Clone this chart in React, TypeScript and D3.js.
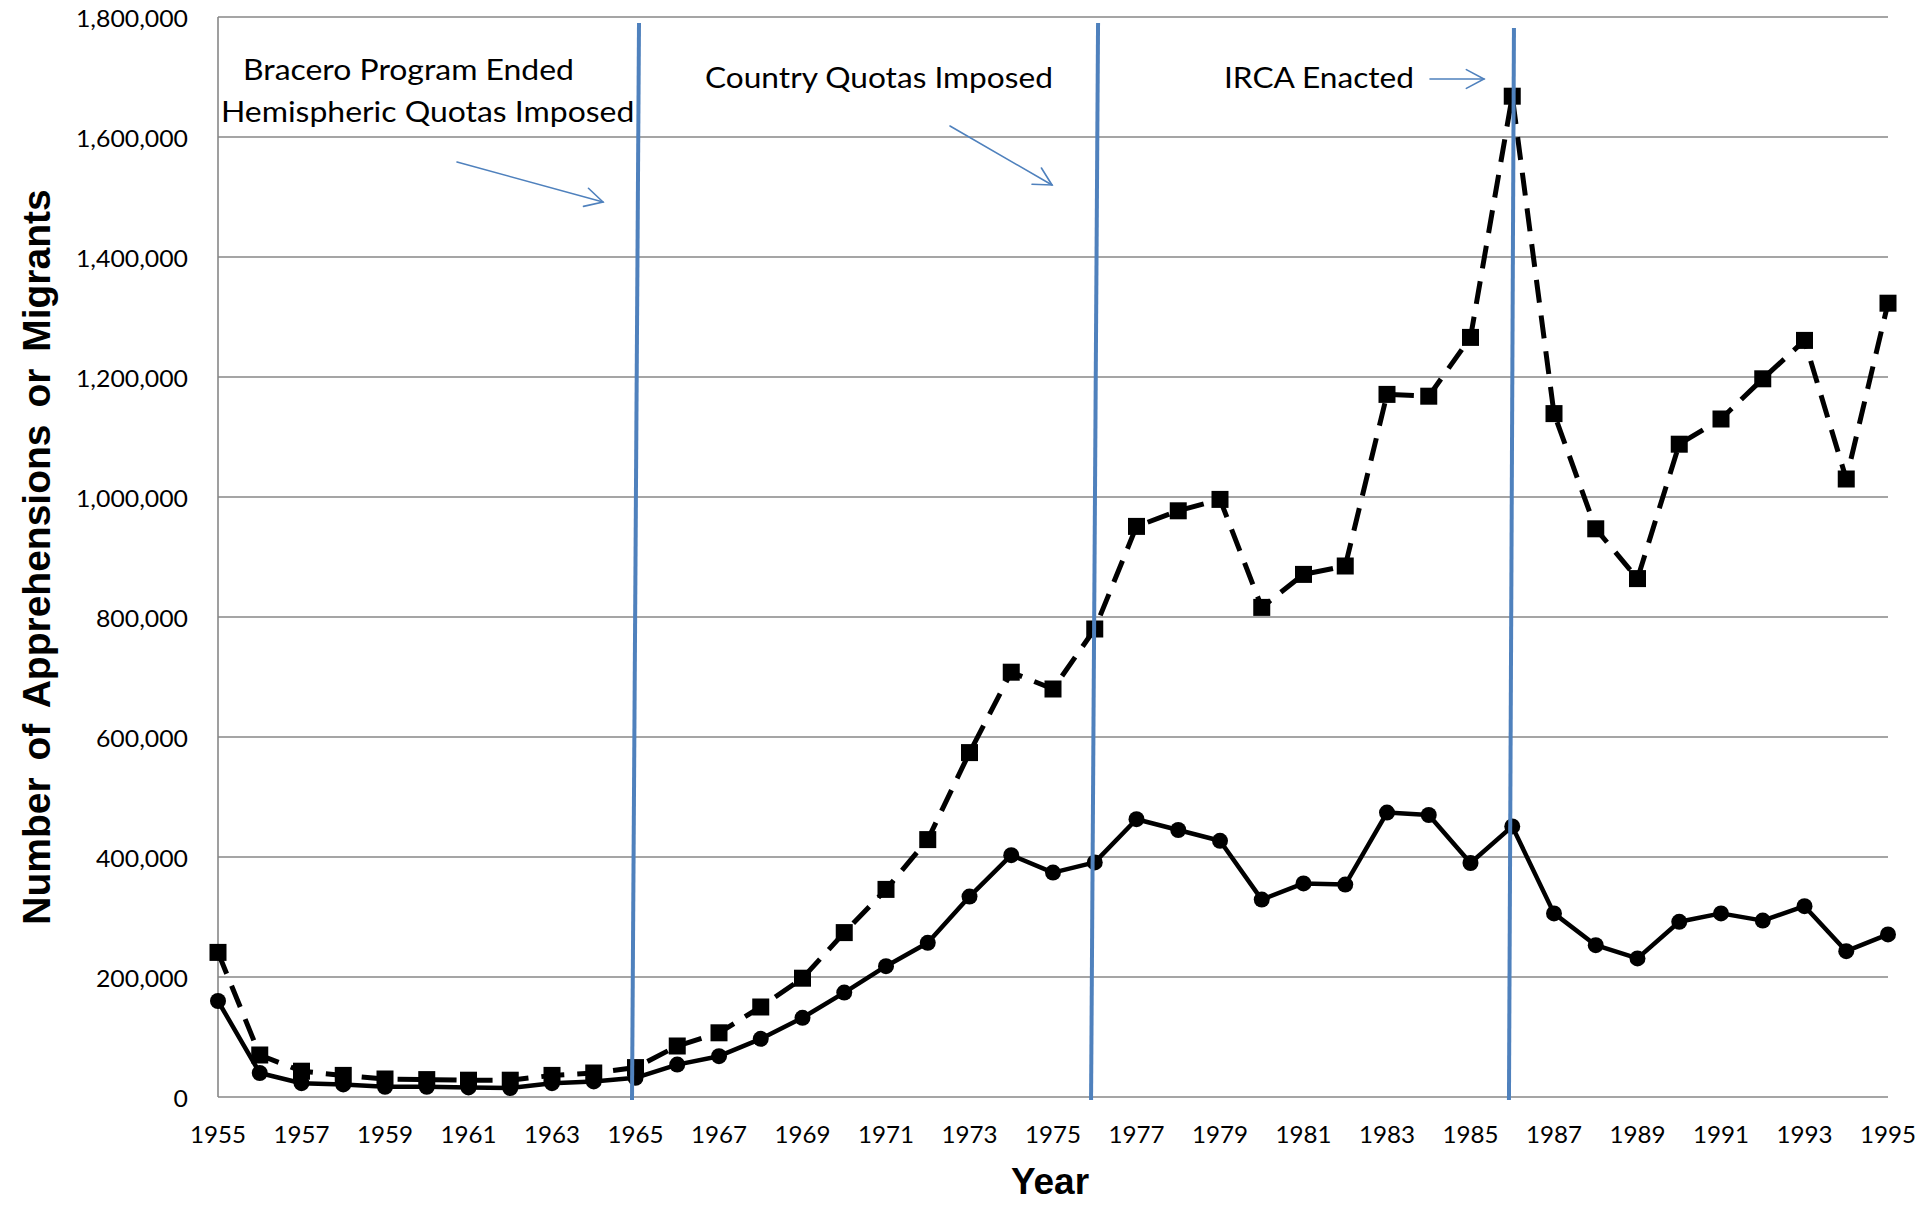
import React from 'react';
import * as d3 from 'd3';

const years = [
  1955, 1956, 1957, 1958, 1959, 1960, 1961, 1962, 1963, 1964,
  1965, 1966, 1967, 1968, 1969, 1970, 1971, 1972, 1973, 1974,
  1975, 1976, 1977, 1978, 1979, 1980, 1981, 1982, 1983, 1984,
  1985, 1986, 1987, 1988, 1989, 1990, 1991, 1992, 1993, 1994, 1995,
];

// dashed line with squares
const apprehensions = [
  241000, 70000, 43000, 36000, 30000, 29000, 28000, 28000, 36000, 40000,
  49000, 85000, 107000, 150000, 198000, 274000, 346000, 429000, 574000, 708000,
  680000, 780000, 951000, 977000, 996000, 816000, 871000, 885000, 1171000, 1168000,
  1266000, 1668000, 1139000, 947000, 864000, 1088000, 1130000, 1197000, 1261000, 1030000, 1323000,
];

// solid line with circles
const migrants = [
  160000, 40000, 23000, 21000, 17000, 17000, 16000, 15000, 23000, 26000,
  32000, 54000, 68000, 97000, 132000, 174000, 218000, 257000, 334000, 403000,
  374000, 391000, 463000, 445000, 427000, 329000, 356000, 354000, 474000, 470000,
  390000, 451000, 306000, 253000, 231000, 292000, 306000, 294000, 318000, 243000, 271000,
];

const yTicks = [0, 200000, 400000, 600000, 800000, 1000000, 1200000, 1400000, 1600000, 1800000];
const xTickYears = [
  1955, 1957, 1959, 1961, 1963, 1965, 1967, 1969, 1971, 1973, 1975,
  1977, 1979, 1981, 1983, 1985, 1987, 1989, 1991, 1993, 1995,
];
const eventYears = [1965, 1976, 1986];
const eventLabels = [
  ['Bracero Program Ended', 'Hemispheric Quotas Imposed'],
  ['Country Quotas Imposed'],
  ['IRCA Enacted'],
];

const W = 1920;
const H = 1207;
const BLUE = '#4F81BD';
const GRID = '#878787';

const x = d3.scaleLinear().domain([1955, 1995]).range([218, 1888]);
const y = d3.scaleLinear().domain([0, 1800000]).range([1097, 17]);

const fmt = d3.format(',');

function SText({ x: tx, y: ty, sx = 1, anchor = 'start', size, family, weight = 'normal', children }: any) {
  return (
    <text
      transform={`translate(${tx},${ty}) scale(${sx},1)`}
      textAnchor={anchor}
      fontSize={size}
      fontFamily={family}
      fontWeight={weight}
      fill="#000"
    >
      {children}
    </text>
  );
}

function Arrow({ x1, y1, x2, y2 }: any) {
  const ang = Math.atan2(y2 - y1, x2 - x1);
  const L = 20;
  const spread = (28 * Math.PI) / 180;
  const a1 = ang + Math.PI - spread;
  const a2 = ang + Math.PI + spread;
  return (
    <g stroke={BLUE} strokeWidth={1.6} fill="none" strokeLinecap="round">
      <line x1={x1} y1={y1} x2={x2} y2={y2} />
      <polyline
        points={`${x2 + L * Math.cos(a1)},${y2 + L * Math.sin(a1)} ${x2},${y2} ${x2 + L * Math.cos(a2)},${y2 + L * Math.sin(a2)}`}
      />
    </g>
  );
}

export default function App() {
  const line = d3
    .line<number>()
    .x((_, i) => x(years[i]))
    .y((d) => y(d));

  const tickFont = 'Lato, "Open Sans", sans-serif';
  const annFont = 'Lato, "Open Sans", sans-serif';
  const boldFont = '"Liberation Sans", Arial, sans-serif';

  const eventStyle = [
    { top: 23, dxTop: 3.5, dxBot: -3.5 },
    { top: 23, dxTop: 3.3, dxBot: -3.7 },
    { top: 28, dxTop: 1.7, dxBot: -3.3 },
  ];

  return (
    <svg
      width={W}
      height={H}
      viewBox={`0 0 ${W} ${H}`}
      style={{ position: 'absolute', left: 0, top: 0, background: '#fff' }}
    >
      <rect width={W} height={H} fill="#fff" />

      {/* gridlines */}
      {yTicks.map((t) => (
        <line key={t} x1={x(1955)} x2={x(1995)} y1={y(t)} y2={y(t)} stroke={GRID} strokeWidth={1.6} />
      ))}
      <line x1={x(1955)} x2={x(1955)} y1={y(1800000)} y2={y(0)} stroke={GRID} strokeWidth={1.6} />

      {/* y tick labels */}
      {yTicks.map((t) => (
        <SText key={t} x={188} y={y(t) + 9.5} sx={1.08} anchor="end" size={23} family={tickFont}>
          {fmt(t)}
        </SText>
      ))}

      {/* x tick labels */}
      {xTickYears.map((yr) => (
        <SText key={yr} x={x(yr)} y={1143} sx={1.05} anchor="middle" size={23} family={tickFont}>
          {String(yr)}
        </SText>
      ))}

      {/* dashed series */}
      <path
        d={line(apprehensions) || ''}
        fill="none"
        stroke="#000"
        strokeWidth={5}
        strokeDasharray="23 13"
        strokeLinejoin="round"
      />
      {apprehensions.map((v, i) => (
        <rect key={i} x={x(years[i]) - 8.5} y={y(v) - 8.5} width={17} height={17} fill="#000" />
      ))}

      {/* solid series */}
      <path d={line(migrants) || ''} fill="none" stroke="#000" strokeWidth={4.5} strokeLinejoin="round" />
      {migrants.map((v, i) => (
        <circle key={i} cx={x(years[i])} cy={y(v)} r={8} fill="#000" />
      ))}

      {/* event lines */}
      {eventYears.map((yr, i) => (
        <line
          key={yr}
          x1={x(yr) + eventStyle[i].dxTop}
          y1={eventStyle[i].top}
          x2={x(yr) + eventStyle[i].dxBot}
          y2={1100}
          stroke={BLUE}
          strokeWidth={4}
        />
      ))}

      {/* annotations */}
      <SText x={243} y={80} sx={1.14} size={28} family={annFont}>{eventLabels[0][0]}</SText>
      <SText x={221} y={122} sx={1.14} size={28} family={annFont}>{eventLabels[0][1]}</SText>
      <SText x={705} y={88} sx={1.13} size={28} family={annFont}>{eventLabels[1][0]}</SText>
      <SText x={1224} y={88} sx={1.13} size={28} family={annFont}>{eventLabels[2][0]}</SText>

      <Arrow x1={457} y1={162} x2={603} y2={202} />
      <Arrow x1={950} y1={126} x2={1052} y2={185} />
      <Arrow x1={1430} y1={79} x2={1484} y2={79} />

      {/* axis titles */}
      <text
        transform={`translate(50,557) rotate(-90)`}
        textAnchor="middle"
        fontSize={39}
        fontWeight="bold"
        fontFamily={boldFont}
        wordSpacing={6}
        fill="#000"
      >
        Number of Apprehensions or Migrants
      </text>
      <text x={1050} y={1194} textAnchor="middle" fontSize={37} fontWeight="bold" fontFamily={boldFont} fill="#000">
        Year
      </text>
    </svg>
  );
}
